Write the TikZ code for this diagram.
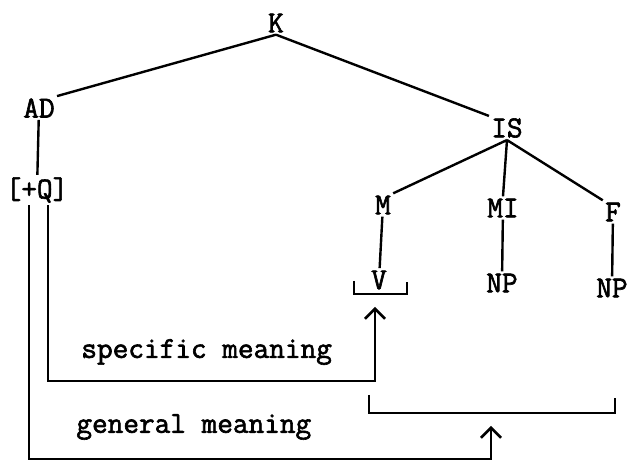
\documentclass[tikz,border=0pt]{standalone}
\usepackage{fontspec}
\newfontfamily\typefont{Latin Modern Mono}[FakeBold=2]
\usetikzlibrary{arrows.meta,positioning}
\tikzset{>={Straight Barb[length=5pt,width=10pt]},line width=1.2pt,
  every node/.style={font=\typefont\bfseries\fontsize{15.2}{18}\selectfont,inner sep=1pt},
  branch/.style={draw,line width=1.2pt},
  scopeline/.style={draw,line width=1.3pt,line join=miter},
  gloss/.style={anchor=west}}

\begin{document}
\begin{tikzpicture}[x=0.5pt,y=-0.5pt]
\path[use as bounding box] (0,0) rectangle (629,469);
\node (K) at (276,23) {K};
\node (AD) at (39,108) {AD};
\node (Q) at (37,190) {[+Q]};
\node (IS) at (507,128) {IS};
\node (M) at (383,205) {M};
\node (MI) at (503,208) {MI};
\node (F) at (613,212) {F};
\node (V) at (379,280) {V};
\node (NPa) at (502,283) {NP};
\node (NPb) at (612,288) {NP};
\node[gloss] (spec) at (79,352) {specific meaning};
\node[gloss] (gen) at (74,427) {general meaning};
\draw[branch] (K.south) -- (AD.north east) (K.south) -- (IS.north west);
\draw[branch] (AD) -- (Q);
\draw[branch] (IS.south) -- (M.north east) (IS.south) -- (MI.north) (IS.south) -- (F.north west);
\draw[branch] (M) -- (V) (MI) -- (NPa) (F) -- (NPb);
\coordinate (vl) at (354,281);
\coordinate (vr) at (407,282);
\draw[scopeline] (vl) |- (380,294) -| (vr);
\coordinate (bl) at (369,395);
\coordinate (br) at (615,398);
\draw[scopeline] (bl) |- (490,413) -| (br);
\coordinate (specend) at (375,307);
\coordinate (genend) at (491,426);
\draw[scopeline,->] (Q.south -| 48,0) |- (212,381) -| (specend);
\draw[scopeline,->] (Q.south -| 29,0) |- (260,459) -| (genend);
\end{tikzpicture}
\end{document}
